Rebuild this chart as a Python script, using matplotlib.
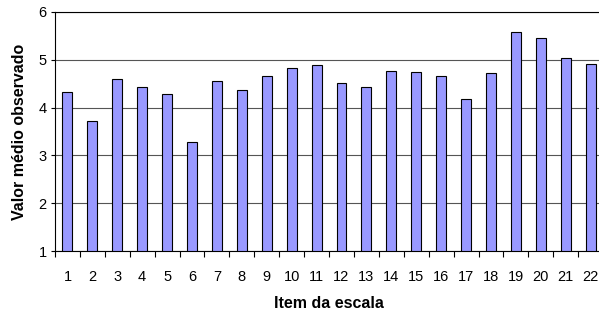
import numpy as np
import matplotlib.pyplot as plt

plt.rcParams['font.family'] = ['Liberation Sans', 'DejaVu Sans']

items = [str(i) for i in range(1, 23)]
means = [4.33, 3.71, 4.60, 4.42, 4.29, 3.27, 4.56, 4.37, 4.67, 4.83, 4.88,
         4.52, 4.42, 4.76, 4.74, 4.65, 4.17, 4.72, 5.59, 5.45, 5.04, 4.91]


def main():
    fig = plt.figure(figsize=(5.99, 3.13), dpi=100)
    ax = fig.add_axes([0.0918, 0.198, 0.915, 0.764])

    x = np.arange(len(items))
    base = 1
    ax.bar(x, np.array(means) - base, bottom=base, width=0.4,
           color='#9999ff', edgecolor='black', linewidth=0.8, zorder=3)

    ax.set_xlim(-0.5, len(items) - 0.5)
    ax.set_ylim(1, 6)
    ax.set_yticks([1, 2, 3, 4, 5, 6])
    ax.set_xticks(x)
    ax.set_xticklabels(items)
    ax.set_xticks(np.arange(-0.5, len(items)), minor=True)
    ax.tick_params(axis='x', which='major', length=0, pad=13.5, labelsize=10.5)
    ax.tick_params(axis='x', which='minor', length=4, width=0.8, direction='out')
    ax.tick_params(axis='y', length=3, width=0.8, labelsize=10.5, pad=3)

    ax.grid(axis='y', color='#555555', linewidth=0.8, zorder=0)
    ax.spines['right'].set_visible(False)
    for s in ['top', 'left', 'bottom']:
        ax.spines[s].set_linewidth(0.8)

    ax.set_xlabel('Item da escala', fontweight='bold', fontsize=11.5, labelpad=9)
    ax.set_ylabel('Valor médio observado', fontweight='bold', fontsize=11.5, labelpad=8)

    fig.savefig('out.png', dpi=100)


if __name__ == "__main__":
    main()
